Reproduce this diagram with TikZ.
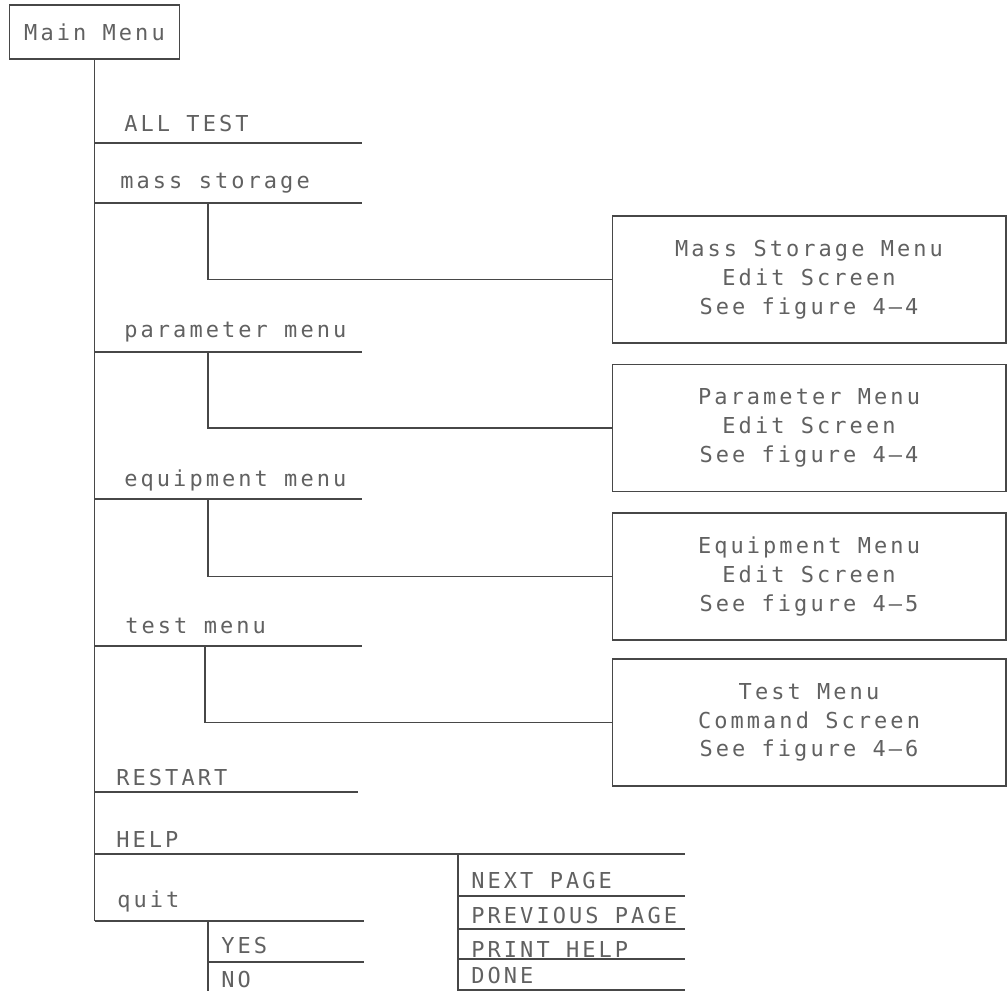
\documentclass[tikz,border=0pt]{standalone}
\usepackage{fontspec}
\setmainfont{DejaVu Sans Mono}[LetterSpace=14]
\usetikzlibrary{positioning,calc}

\begin{document}
\begin{tikzpicture}[
    x=0.02cm, y=-0.02cm,
    rule/.style={draw=black!72, line width=0.6pt},
    mainbox/.style={rectangle, draw=black!72, line width=0.6pt, minimum width=3.4cm, minimum height=1.08cm, inner sep=0pt, font=\fontsize{12.5}{15}\selectfont, text=black!62},
    screen/.style={rectangle, draw=black!72, line width=0.6pt, minimum width=7.88cm, minimum height=2.54cm, inner sep=0pt, align=center, font=\fontsize{12.5}{16.4}\selectfont, text=black!62},
    item/.style={anchor=base west, inner sep=0pt, font=\fontsize{12.5}{15}\selectfont, text=black!62}
]
\useasboundingbox (0,0) rectangle (1007,991);

% Main Menu
\node[mainbox] (main) at (94.5,32) {Main Menu};

% Menu items
\node[item] (alltest) at (124,131) {ALL TEST};
\node[item] (mass) at (120,188) {mass storage};
\node[item] (param) at (124,337) {parameter menu};
\node[item] (equip) at (124,486) {equipment menu};
\node[item] (test) at (125,633) {test menu};
\node[item] (restart) at (116,785) {RESTART};
\node[item] (help) at (116,847) {HELP};
\node[item] (quit) at (117,907) {quit};

% quit choices
\node[item] (yes) at (221,953) {YES};
\node[item] (no) at (221,987) {NO};

% help choices
\node[item] (next) at (471,888) {NEXT PAGE};
\node[item] (prev) at (471,923) {PREVIOUS PAGE};
\node[item] (print) at (471,957) {PRINT HELP};
\node[item] (done) at (471,983) {DONE};

% Screens
\node[screen] (msbox) at (809,279.5) {\rule{0pt}{0.3cm}Mass Storage Menu\\Edit Screen\\See figure 4--4};
\node[screen] (parbox) at (809,428) {\rule{0pt}{0.3cm}Parameter Menu\\Edit Screen\\See figure 4--4};
\node[screen] (eqbox) at (809,576.5) {\rule{0pt}{0.3cm}Equipment Menu\\Edit Screen\\See figure 4--5};
\node[screen] (tstbox) at (809,722.5) {\rule{0pt}{0.3cm}Test Menu\\Command Screen\\See figure 4--6};

% Trunk and underlines
\coordinate (trunkend) at (94.5,921);
\draw[rule] (main.south) -- (trunkend);
\draw[rule] (94.5,143) -- (362,143);
\draw[rule] (94.5,203) -- (362,203);
\draw[rule] (94.5,352) -- (362,352);
\draw[rule] (94.5,499) -- (362,499);
\draw[rule] (94.5,646) -- (362,646);
\draw[rule] (94.5,792) -- (358,792);
\draw[rule] (94.5,854) -- (685,854);
\draw[rule] (trunkend) -- (364,921);

% Branches to screens
\coordinate (msfork) at (208,203);
\coordinate (parfork) at (208,352);
\coordinate (eqfork) at (208,499);
\coordinate (tstfork) at (205,646);
\draw[rule] (msfork) |- (msbox.west);
\draw[rule] (parfork) |- (parbox.west);
\draw[rule] (eqfork) |- (eqbox.west);
\draw[rule] (tstfork) |- (tstbox.west);

% quit submenu
\coordinate (quitfork) at (208,921);
\coordinate (quitend) at (208,991);
\draw[rule] (quitfork) -- (quitend);
\draw[rule] (208,962) -- (364,962);

% help submenu
\coordinate (helpfork) at (458,854);
\coordinate (helpend) at (458,991);
\draw[rule] (helpfork) -- (helpend);
\draw[rule] (458,896) -- (685,896);
\draw[rule] (458,929) -- (685,929);
\draw[rule] (458,959) -- (685,959);
\draw[rule] (458,990) -- (685,990);

\end{tikzpicture}
\end{document}
